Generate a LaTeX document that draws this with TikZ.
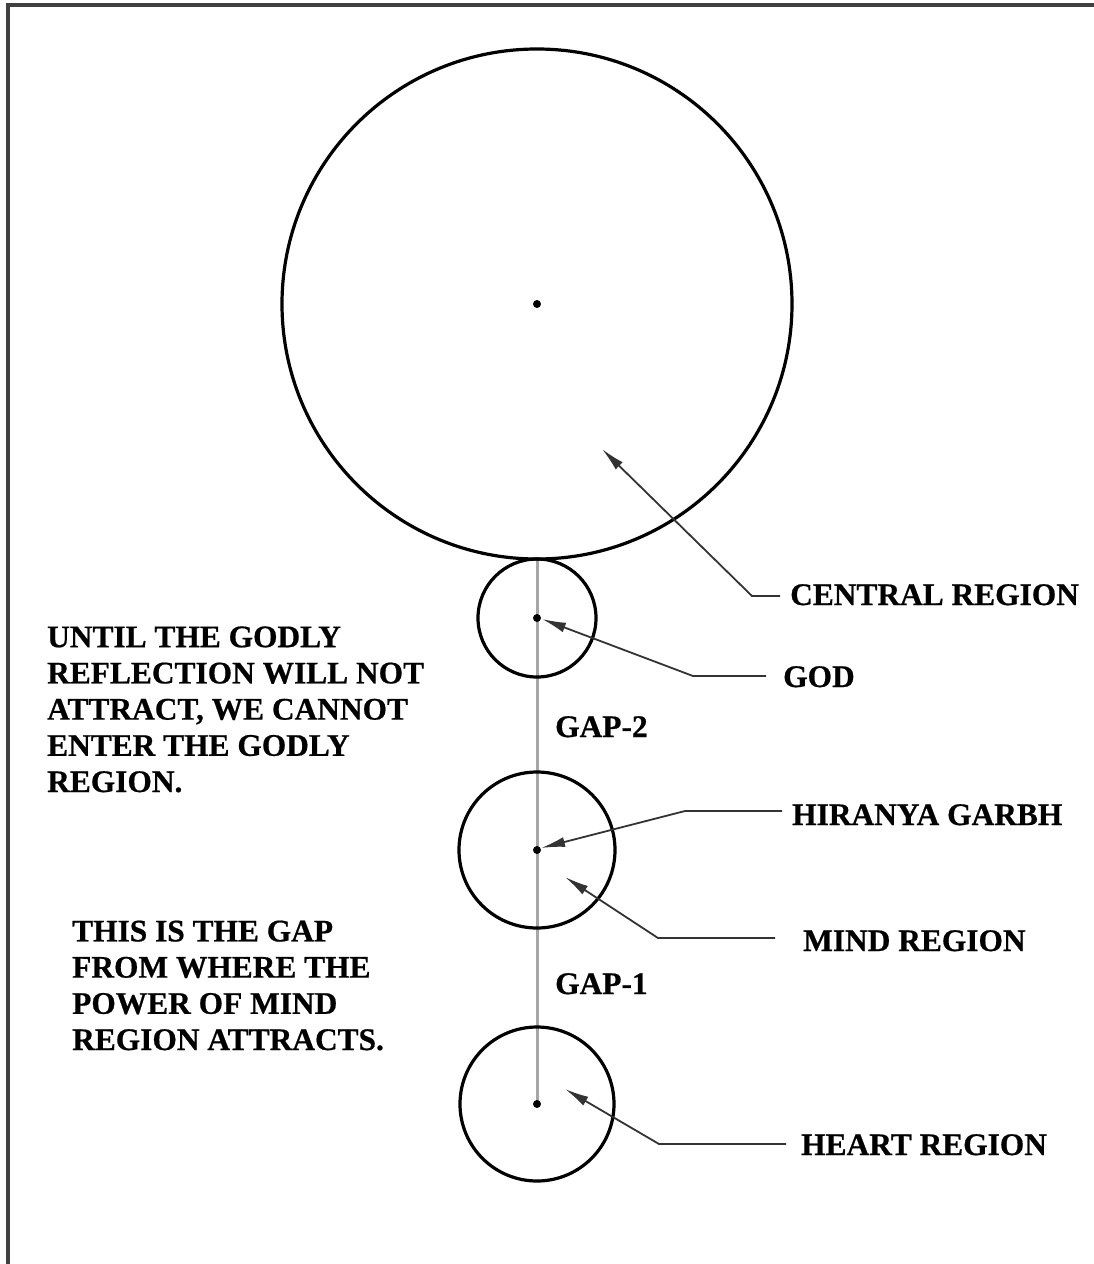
\documentclass[tikz,border=0pt]{standalone}
\usepackage{fontspec}
\setmainfont{Liberation Serif}[BoldFeatures={FakeBold=0.6}]
\usetikzlibrary{arrows.meta}
\begin{document}
\begin{tikzpicture}[x=1pt,y=-1pt,
  ring/.style={circle,draw=black,line width=3.2pt,inner sep=0pt},
  dotmark/.style={circle,fill=black,inner sep=0pt,minimum size=8pt},
  leader/.style={draw=black!80,line width=1.8pt},
  arr/.style={leader,-{Latex[length=24pt,width=10pt]}},
  lbl/.style={font=\fontsize{31.4}{36.2}\selectfont\bfseries,inner sep=0pt,anchor=base west},
  note/.style={lbl,align=left}]
\useasboundingbox (0,0) rectangle (1093,1264);
\draw[line width=3.5pt,black!75] (8,1270) -- (8,5) -- (1100,5);
% vertical axis
\coordinate (touch) at (537,559);
\coordinate (heartctr) at (537,1104);
\draw[line width=3pt,black!35] (touch) -- (heartctr);
% circles
\node[ring,minimum size=510pt] (big) at (537,304) {};
\node[ring,minimum size=118pt] (godc) at (537,618) {};
\node[ring,minimum size=156pt] (mindc) at (537,850) {};
\node[ring,minimum size=154pt] (heartc) at (heartctr) {};
% dots
\node[dotmark] (bigdot) at (big.center) {};
\node[dotmark] (goddot) at (godc.center) {};
\node[dotmark] (minddot) at (mindc.center) {};
\node[dotmark] (heartdot) at (heartc.center) {};
% labels
\node[lbl] (lcentral) at (790,605) {CENTRAL REGION};
\node[lbl] (lgod) at (783,687) {GOD};
\node[lbl] (lhir) at (792,825) {HIRANYA GARBH};
\node[lbl] (lmind) at (803,951) {MIND REGION};
\node[lbl] (lheart) at (801,1155) {HEART REGION};
\node[lbl] (gap2) at (555,737) {GAP-2};
\node[lbl] (gap1) at (555,994) {GAP-1};
\node[note] (note1) at (47,792) {UNTIL THE GODLY\\REFLECTION WILL NOT\\ATTRACT, WE CANNOT\\ENTER THE GODLY\\REGION.};
\node[note] (note2) at (72,1050) {THIS IS THE GAP\\FROM WHERE THE\\POWER OF MIND\\REGION ATTRACTS.};
% leaders
\coordinate (cTip) at (602,449); \coordinate (cK) at (752,596); \coordinate (cE) at (780,596);
\draw[arr] (cE) -- (cK) -- (cTip);
\coordinate (gTip) at (542,619); \coordinate (gK) at (693,676); \coordinate (gE) at (766,676);
\draw[arr] (gE) -- (gK) -- (gTip);
\coordinate (hTip) at (541,848); \coordinate (hK) at (685,811); \coordinate (hE) at (782,811);
\draw[arr] (hE) -- (hK) -- (hTip);
\coordinate (mTip) at (565,877); \coordinate (mK) at (658,938); \coordinate (mE) at (775,938);
\draw[arr] (mE) -- (mK) -- (mTip);
\coordinate (eTip) at (565,1089); \coordinate (eK) at (659,1144); \coordinate (eE) at (786,1144);
\draw[arr] (eE) -- (eK) -- (eTip);
\end{tikzpicture}
\end{document}
